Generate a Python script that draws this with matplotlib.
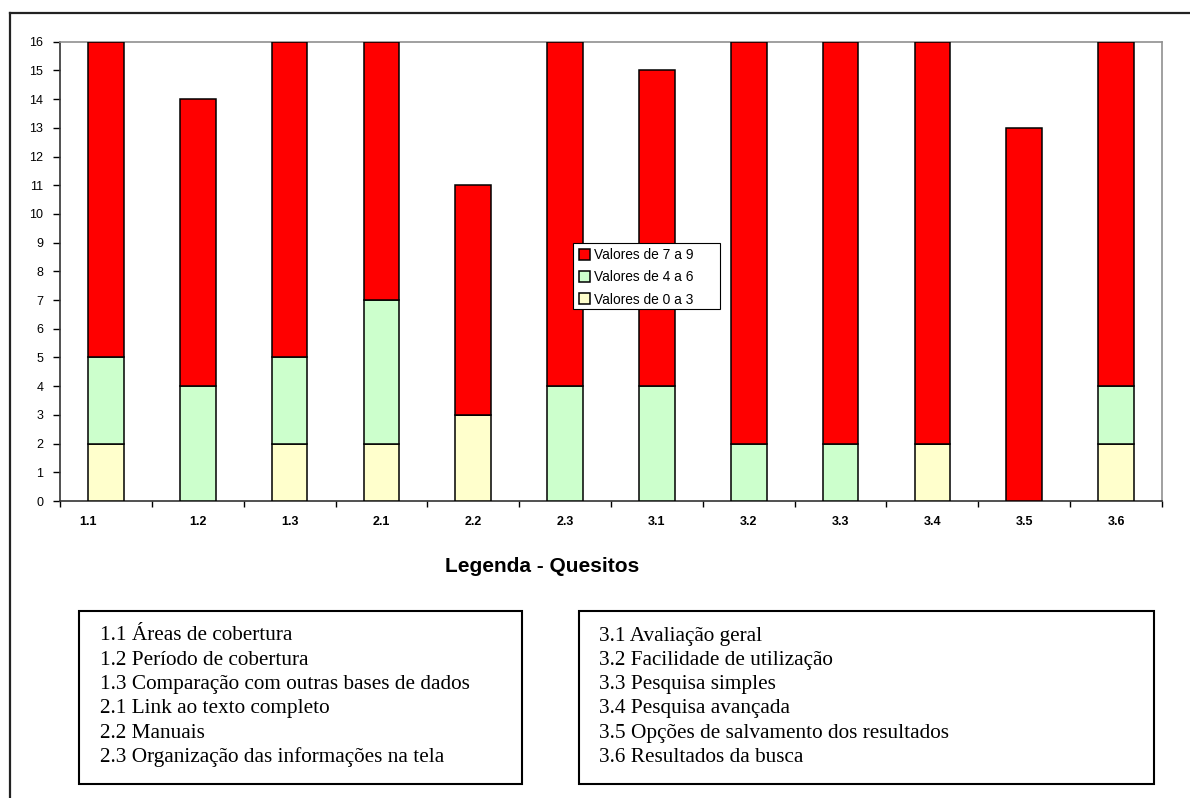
import matplotlib
matplotlib.use("Agg")
import matplotlib.pyplot as plt
import matplotlib.transforms as mtransforms
from matplotlib.patches import Rectangle
from matplotlib.lines import Line2D
import numpy as np

categories = ["1.1", "1.2", "1.3", "2.1", "2.2", "2.3",
              "3.1", "3.2", "3.3", "3.4", "3.5", "3.6"]
low = [2, 0, 2, 2, 3, 0, 0, 0, 0, 2, 0, 2]      # Valores de 0 a 3
mid = [3, 4, 3, 5, 0, 4, 4, 2, 2, 0, 0, 2]      # Valores de 4 a 6
high = [11, 10, 11, 9, 8, 12, 11, 14, 14, 14, 13, 12]  # Valores de 7 a 9

series_labels = ["Valores de 0 a 3", "Valores de 4 a 6", "Valores de 7 a 9"]
colors = ["#FFFFCC", "#CCFFCC", "#FF0000"]

legend_left = ["1.1 Áreas de cobertura",
               "1.2 Período de cobertura",
               "1.3 Comparação com outras bases de dados",
               "2.1 Link ao texto completo",
               "2.2 Manuais",
               "2.3 Organização das informações na tela"]
legend_right = ["3.1 Avaliação geral",
                "3.2 Facilidade de utilização",
                "3.3 Pesquisa simples",
                "3.4 Pesquisa avançada",
                "3.5 Opções de salvamento dos resultados",
                "3.6 Resultados da busca"]

W, H = 1190, 798
fig = plt.figure(figsize=(W / 100, H / 100), dpi=100)
fig.patch.set_facecolor("white")

ax = fig.add_axes([60 / W, 1 - 501 / H, (1162 - 60) / W, (501 - 41.7) / H])

x = np.arange(len(categories))
bw = 0.39
bottom = np.zeros(len(categories))
bars = []
for vals, lab, col in zip([low, mid, high], series_labels, colors):
    vals = np.array(vals)
    b = ax.bar(x, vals, bw, bottom=bottom, color=col, edgecolor="black",
               linewidth=1.1, label=lab, zorder=3)
    bars.append(b)
    bottom = bottom + vals

ax.set_xlim(-0.5, len(categories) - 0.5)
ax.set_ylim(0, 16)
ax.set_yticks(range(0, 17))
ax.tick_params(axis="y", direction="out", length=5, width=1, pad=7,
               labelsize=9)
for t in ax.get_yticklabels():
    t.set_fontfamily("Liberation Sans")

ax.set_xticks(np.arange(-0.5, len(categories)), labels=[""] * (len(categories) + 1))
ax.set_xticks(x, labels=categories, minor=True)
ax.tick_params(axis="x", which="major", direction="out", length=4, width=1)
ax.tick_params(axis="x", which="minor", length=0, pad=11, labelsize=9)
for t in ax.get_xticklabels(minor=True):
    t.set_fontfamily("Liberation Sans")
    t.set_fontweight("bold")
# first label sits a bit left of its bar, as in the original
first = ax.xaxis.get_minor_ticks()[0].label1
first.set_transform(first.get_transform() +
                    mtransforms.ScaledTranslation(-18 / 100, 0, fig.dpi_scale_trans))

for s in ["top", "right"]:
    ax.spines[s].set_color("#909090")
    ax.spines[s].set_linewidth(1.2)
for s in ["left", "bottom"]:
    ax.spines[s].set_color("#333333")
    ax.spines[s].set_linewidth(1.2)

# legend: frame drawn separately so it keeps the wide Excel-style box
frame = Rectangle((573 / W, 1 - 309 / H), (720 - 573) / W, (309 - 243) / H,
                  transform=fig.transFigure, facecolor="white",
                  edgecolor="black", linewidth=0.8, zorder=4.5, clip_on=False)
ax.add_artist(frame)
handles = bars[::-1]
leg = ax.legend(handles, series_labels[::-1], loc="upper left",
                bbox_to_anchor=(576 / W, 1 - 245 / H), bbox_transform=fig.transFigure,
                prop={"family": "Liberation Sans", "size": 9.9},
                frameon=False, borderpad=0.22, labelspacing=0.6,
                handlelength=0.8, handleheight=0.8, handletextpad=0.3,
                borderaxespad=0)
leg.set_zorder(5)

fig.text(542 / W, 1 - 567 / H, "Legenda - Quesitos", ha="center", va="center",
         fontsize=15, fontweight="bold", family="Liberation Sans")

# outer frame (left and top edges visible)
fig.add_artist(Line2D([9.5 / W, 9.5 / W], [0, 1 - 13 / H], color="#222222",
                      linewidth=1.6, transform=fig.transFigure))
fig.add_artist(Line2D([9.5 / W, 1], [1 - 13 / H, 1 - 13 / H], color="#222222",
                      linewidth=1.6, transform=fig.transFigure))

boxes = [(79, 522, 100, legend_left), (579, 1154, 599, legend_right)]
for x0, x1, tx, lines in boxes:
    fig.add_artist(Rectangle((x0 / W, 1 - 784 / H), (x1 - x0) / W, (784 - 611) / H,
                             transform=fig.transFigure, facecolor="none",
                             edgecolor="black", linewidth=1.5))
    for i, line in enumerate(lines):
        fig.text(tx / W, 1 - (636 + i * 24.3) / H, line, ha="left", va="center",
                 fontsize=15.3, family="Liberation Serif")

fig.savefig("out.png", dpi=100)
